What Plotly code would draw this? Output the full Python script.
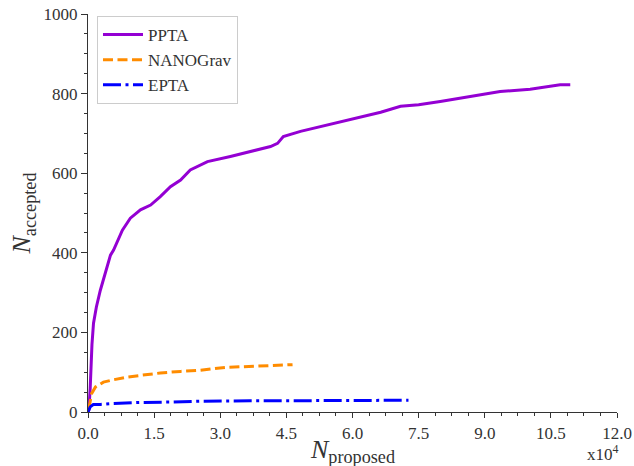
import plotly.graph_objects as go

# Data (x in units of 10^4 proposed steps)
ppta_x = [0, 0.02, 0.05, 0.07, 0.09, 0.125, 0.19, 0.28, 0.35, 0.44, 0.51, 0.58, 0.67, 0.78, 0.96,
          1.19, 1.42, 1.64, 1.87, 2.1, 2.32, 2.71, 3.23, 3.68, 4.14, 4.3, 4.43, 4.82, 5.27, 5.72,
          6.18, 6.64, 7.09, 7.5, 7.99, 8.67, 9.35, 10.03, 10.49, 10.71, 10.94]
ppta_y = [0, 5, 60, 120, 170, 223, 264, 306, 331, 365, 394, 407, 428, 457, 487,
          508, 520, 541, 566, 583, 608, 629, 642, 654, 667, 675, 692, 705, 717, 730,
          742, 753, 768, 772, 780, 793, 805, 811, 818, 822, 822]

nano_x = [0.02, 0.04, 0.08, 0.17, 0.35, 0.58, 0.9, 1.19, 1.64, 2.1, 2.55, 3.12, 3.69, 4.14, 4.64]
nano_y = [8, 25, 46, 63, 75, 81, 88, 92, 98, 102, 105, 112, 115, 117, 119]

epta_x = [0, 0.02, 0.05, 0.12, 0.28, 0.51, 1.19, 1.87, 2.55, 3.68, 5.04, 6.2, 7.27]
epta_y = [0, 6, 13, 19, 19, 21, 24, 25, 27, 28, 29, 29.5, 29.5]

series_names = ["PPTA", "NANOGrav", "EPTA"]
x_title = "<i>N</i><sub>proposed</sub>"
y_title = "<i>N</i><sub>accepted</sub>"
x_scale_label = "x10<sup>4</sup>"

FONT = "Liberation Serif"
TXT = "#333333"

fig = go.Figure()
fig.add_trace(go.Scatter(x=ppta_x, y=ppta_y, mode="lines", name=series_names[0],
                         line=dict(color="#9400D3", width=3)))
fig.add_trace(go.Scatter(x=nano_x, y=nano_y, mode="lines", name=series_names[1],
                         line=dict(color="#FF8C00", width=3, dash="10px,4.5px")))
fig.add_trace(go.Scatter(x=epta_x, y=epta_y, mode="lines", name=series_names[2],
                         line=dict(color="#0000FF", width=3, dash="18px,4.5px,3px,4.5px")))

fig.update_layout(
    width=634, height=466,
    margin=dict(l=88, r=17, t=14, b=54, autoexpand=False),
    paper_bgcolor="white", plot_bgcolor="white",
    font=dict(family=FONT, size=17, color=TXT),
    showlegend=True,
    legend=dict(x=0.017, y=0.995, xanchor="left", yanchor="top",
                bgcolor="white", bordercolor="#cccccc", borderwidth=1,
                font=dict(family=FONT, size=17, color=TXT), itemwidth=40),
    xaxis=dict(range=[0, 12], dtick=1.5, tick0=0, tickformat=".1f", automargin=False,
               ticklabeloverflow="allow",
               showgrid=False, zeroline=False, showline=True, linecolor="#333333", linewidth=1.2,
               ticks="outside", ticklen=5, tickcolor="#333333",
               minor=dict(dtick=0.375, tick0=0, ticks="outside", ticklen=3, tickcolor="#333333", showgrid=False),
               tickfont=dict(family=FONT, size=17, color=TXT)),
    yaxis=dict(range=[0, 1000], dtick=200, tick0=0, automargin=False,
               ticklabeloverflow="allow",
               showgrid=False, zeroline=False, showline=True, linecolor="#333333", linewidth=1.2,
               ticks="outside", ticklen=6, tickcolor="#333333",
               minor=dict(dtick=50, tick0=0, ticks="outside", ticklen=3, tickcolor="#333333", showgrid=False),
               tickfont=dict(family=FONT, size=17, color=TXT)),
    annotations=[
        dict(text=x_title, xref="paper", yref="paper", x=0.5, y=-0.053,
             xanchor="center", yanchor="top", showarrow=False,
             font=dict(family=FONT, size=26, color=TXT)),
        dict(text=y_title, xref="paper", yref="paper", x=-0.156, y=0.5, textangle=-90,
             xanchor="left", yanchor="middle", showarrow=False,
             font=dict(family=FONT, size=26, color=TXT)),
        dict(text=x_scale_label, xref="paper", yref="paper", x=0.974, y=-0.07,
             xanchor="center", yanchor="top", showarrow=False,
             font=dict(family=FONT, size=17, color=TXT)),
    ],
)

# remove the browser's default body margin so the figure fills the window exactly
fig.write_html("out.html", config={"displayModeBar": False},
               post_script="document.body.style.margin='0';document.body.style.overflow='hidden';")
